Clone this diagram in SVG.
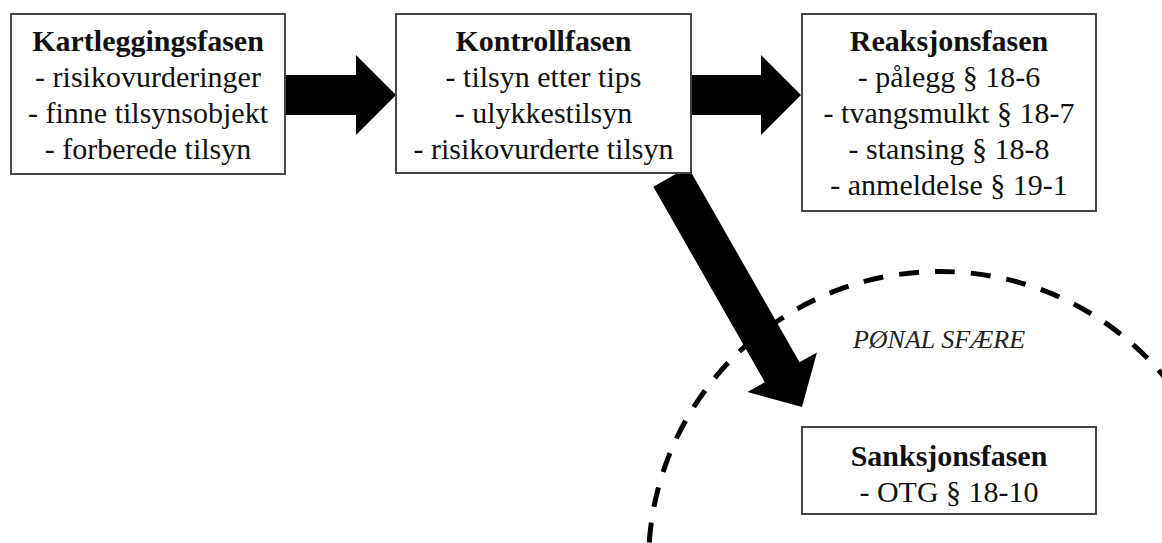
<svg xmlns="http://www.w3.org/2000/svg" width="1162" height="543" viewBox="0 0 1162 543">
  <style>
    .box { fill: #ffffff; stroke: #444444; stroke-width: 2; }
    .t { font-family: "Liberation Serif", "Times New Roman", serif; font-size: 30px; fill: #111111; text-anchor: middle; }
    .h { font-weight: bold; }
    .arrow { fill: #000000; }
    .sphere { fill: none; stroke: #000000; stroke-width: 5; stroke-dasharray: 20 16; }
    .lbl { font-family: "Liberation Serif", "Times New Roman", serif; font-size: 26px; font-style: italic; fill: #222222; text-anchor: middle; }
  </style>
  <rect x="0" y="0" width="1162" height="543" fill="#ffffff"/>

  <circle id="sphere" class="sphere" cx="940" cy="563" r="291.5"/>

  <g id="connectors">
    <path class="arrow" d="M270,75 L356,75 L356,55 L396,95 L356,135 L356,115 L270,115 Z"/>
    <path class="arrow" d="M680,75 L761,75 L761,55 L801,95 L761,135 L761,115 L680,115 Z"/>
    <path class="arrow" transform="translate(802,407) rotate(60.3)" d="M-265,-20 L-40,-20 L-40,-40 L0,0 L-40,40 L-40,20 L-265,20 Z"/>
  </g>

  <g id="kartlegging">
    <rect class="box" x="11" y="14" width="274" height="160"/>
    <text class="t h" x="148" y="51">Kartleggingsfasen</text>
    <text class="t" x="148" y="87">- risikovurderinger</text>
    <text class="t" x="148" y="123">- finne tilsynsobjekt</text>
    <text class="t" x="148" y="159">- forberede tilsyn</text>
  </g>

  <g id="kontroll">
    <rect class="box" x="396" y="14" width="295" height="159"/>
    <text class="t h" x="543.5" y="51">Kontrollfasen</text>
    <text class="t" x="543.5" y="87">- tilsyn etter tips</text>
    <text class="t" x="543.5" y="123">- ulykkestilsyn</text>
    <text class="t" x="543.5" y="159">- risikovurderte tilsyn</text>
  </g>

  <g id="reaksjon">
    <rect class="box" x="802" y="14" width="294" height="197"/>
    <text class="t h" x="949" y="51">Reaksjonsfasen</text>
    <text class="t" x="949" y="87">- pålegg § 18-6</text>
    <text class="t" x="949" y="123">- tvangsmulkt § 18-7</text>
    <text class="t" x="949" y="159">- stansing § 18-8</text>
    <text class="t" x="949" y="195">- anmeldelse § 19-1</text>
  </g>

  <g id="sanksjon">
    <rect class="box" x="802" y="427" width="294" height="87"/>
    <text class="t h" x="949" y="466">Sanksjonsfasen</text>
    <text class="t" x="949" y="502">- OTG § 18-10</text>
  </g>

  <g id="ponal-label">
    <text class="lbl" x="939" y="348">PØNAL SFÆRE</text>
  </g>
</svg>
